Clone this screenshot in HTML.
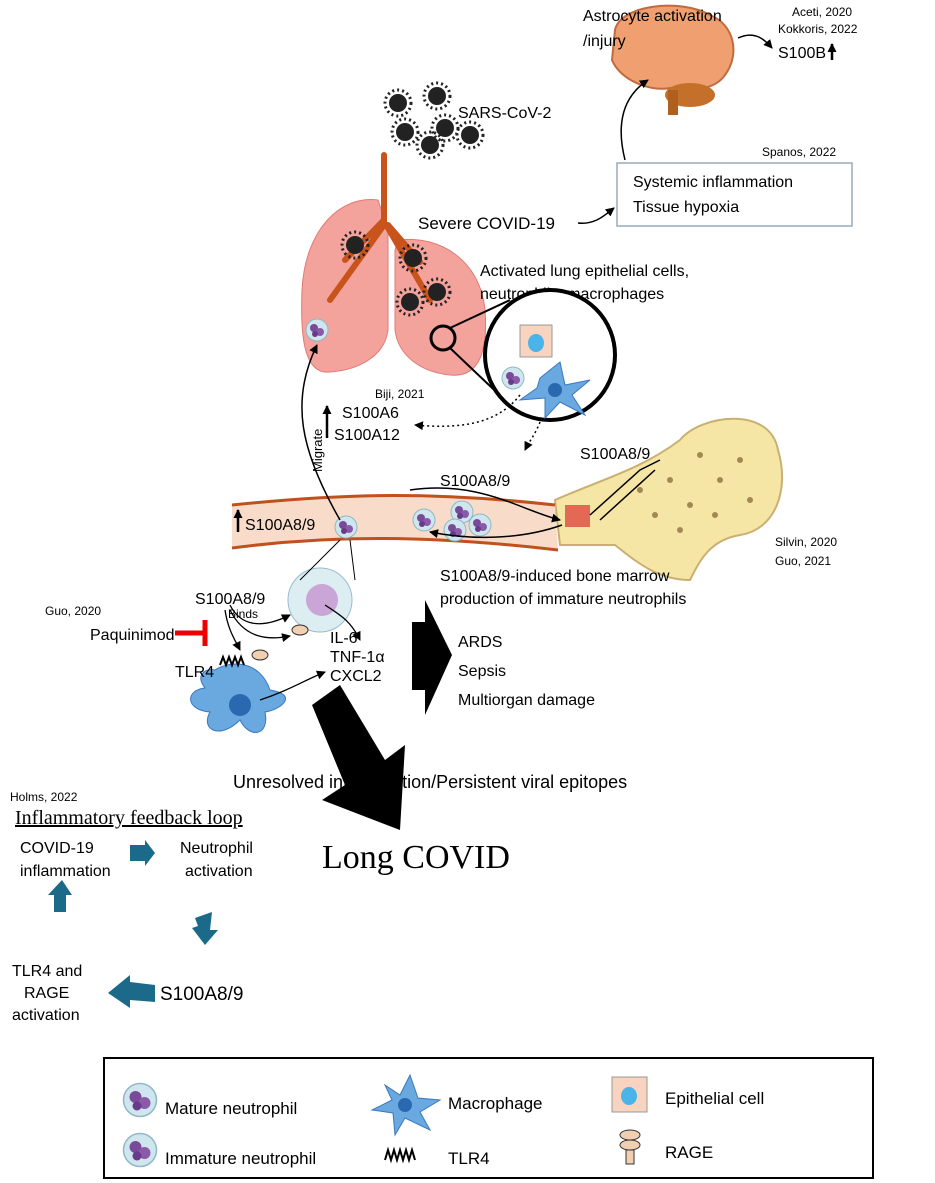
<!DOCTYPE html>
<html><head><meta charset="utf-8"><style>
html,body{margin:0;padding:0;background:#fff;}
svg{display:block;font-family:"Liberation Sans",sans-serif;}
</style></head><body>
<svg width="935" height="1183" viewBox="0 0 935 1183" xmlns="http://www.w3.org/2000/svg">
<defs>
<marker id="a" markerUnits="userSpaceOnUse" markerWidth="9" markerHeight="9" refX="8" refY="4.5" orient="auto"><path d="M0,0 L9,4.5 L0,9 z" fill="#000"/></marker>
<g id="neu"><circle r="11" fill="#cfe6ee" stroke="#8fb7c6"/><circle cx="-3" cy="-2" r="4" fill="#7a4a9a"/><circle cx="3" cy="2" r="4" fill="#8a5aa8"/><circle cx="-2" cy="4" r="3" fill="#6a3a8a"/></g>
<g id="vir"><circle r="9" fill="#222"/><circle r="13" fill="none" stroke="#222" stroke-width="3" stroke-dasharray="2 3"/></g>
</defs>
<!-- brain -->
<path d="M615,30 C620,5 680,-2 710,15 C735,25 740,55 725,75 C715,90 690,92 670,88 C650,92 620,80 612,60 Z" fill="#f0a070" stroke="#c06a40" stroke-width="2"/>
<ellipse cx="690" cy="95" rx="25" ry="12" fill="#c4702a"/>
<rect x="668" y="90" width="10" height="25" fill="#b0601e"/>
<text x="583" y="21" font-size="16">Astrocyte activation</text>
<text x="583" y="46" font-size="16">/injury</text>
<text x="792" y="16" font-size="12">Aceti, 2020</text>
<text x="778" y="33" font-size="12">Kokkoris, 2022</text>
<text x="778" y="58" font-size="16">S100B</text><path d="M832,60 V44" stroke="#000" stroke-width="2.5" marker-end="url(#a)"/>
<path d="M738,38 C755,30 765,40 772,48" fill="none" stroke="#000" stroke-width="1.5" marker-end="url(#a)"/>
<!-- viruses -->
<use href="#vir" x="398" y="103"/><use href="#vir" x="437" y="96"/><use href="#vir" x="405" y="132"/><use href="#vir" x="445" y="128"/><use href="#vir" x="470" y="135"/><use href="#vir" x="430" y="145"/>
<text x="458" y="118" font-size="16">SARS-CoV-2</text>
<!-- box -->
<text x="762" y="156" font-size="12">Spanos, 2022</text>
<rect x="617" y="163" width="235" height="63" fill="#fff" stroke="#9ab" stroke-width="1.5"/>
<text x="633" y="187" font-size="16">Systemic inflammation</text>
<text x="633" y="212" font-size="16">Tissue hypoxia</text>
<path d="M625,160 C615,120 625,95 648,80" fill="none" stroke="#000" stroke-width="1.5" marker-end="url(#a)"/>
<!-- lungs -->
<path d="M378,200 C340,195 305,230 302,290 C300,340 305,375 330,372 C360,370 385,355 388,330 L388,230 Z" fill="#f4a29c" stroke="#e07b76"/>
<path d="M398,240 C440,235 480,260 485,310 C488,350 480,378 450,375 C420,372 398,355 395,330 L395,250 Z" fill="#f4a29c" stroke="#e07b76"/>
<path d="M384,155 L384,225 M384,220 L345,260 M384,225 L330,300 M388,225 L420,262 M388,228 L430,300" stroke="#c9541b" stroke-width="6" fill="none" stroke-linecap="round"/>
<use href="#vir" x="355" y="245"/><use href="#vir" x="413" y="258"/><use href="#vir" x="437" y="292"/><use href="#vir" x="410" y="302"/>
<use href="#neu" x="317" y="330"/>
<text x="418" y="229" font-size="17">Severe COVID-19</text>
<path d="M578,223 C595,225 605,215 614,208" fill="none" stroke="#000" stroke-width="1.5" marker-end="url(#a)"/>
<text x="480" y="276" font-size="16">Activated lung epithelial cells,</text>
<text x="480" y="299" font-size="16">neutrophils, macrophages</text>
<circle cx="443" cy="338" r="12" fill="none" stroke="#000" stroke-width="3"/>
<path d="M450,328 L510,300 M450,348 L510,405" stroke="#000" stroke-width="2"/>
<circle cx="550" cy="355" r="65" fill="#fff" stroke="#000" stroke-width="4"/>
<rect x="520" y="325" width="32" height="32" fill="#f8d4c0" stroke="#999"/><ellipse cx="536" cy="343" rx="8" ry="9" fill="#4ab3e8"/>
<path d="M540,378 L560,362 L565,385 L590,380 L572,395 L585,415 L560,402 L545,418 L545,398 L520,400 L537,388 Z" fill="#6aa8e0" stroke="#3a78c0"/>
<circle cx="555" cy="390" r="7" fill="#2a68b0"/>
<use href="#neu" x="513" y="378"/>
<text x="375" y="398" font-size="12">Biji, 2021</text>
<text x="342" y="418" font-size="16">S100A6</text><text x="334" y="440" font-size="16">S100A12</text>
<path d="M327,438 V406" stroke="#000" stroke-width="2.5" marker-end="url(#a)"/>
<path d="M520,395 C500,420 470,430 415,425" fill="none" stroke="#000" stroke-width="1.5" stroke-dasharray="2 3" marker-end="url(#a)"/>
<path d="M540,422 C535,435 530,440 525,450" fill="none" stroke="#000" stroke-width="1.5" stroke-dasharray="2 3" marker-end="url(#a)"/>
<!-- bone -->
<path d="M555,500 C600,480 640,470 680,440 C700,415 770,405 778,450 C790,490 775,530 740,535 C710,540 700,560 690,580 C660,580 640,565 615,545 L560,545 Z" fill="#f6e6a6" stroke="#c9b070" stroke-width="2"/>
<g fill="#6b4a1a" opacity="0.6"><circle cx="640" cy="490" r="3"/><circle cx="670" cy="480" r="3"/><circle cx="700" cy="455" r="3"/><circle cx="720" cy="480" r="3"/><circle cx="690" cy="505" r="3"/><circle cx="740" cy="460" r="3"/><circle cx="655" cy="515" r="3"/><circle cx="715" cy="515" r="3"/><circle cx="750" cy="500" r="3"/><circle cx="680" cy="530" r="3"/></g>
<rect x="565" y="505" width="25" height="22" fill="#d33" opacity="0.7"/>
<path d="M590,515 L640,470 L660,460 M600,520 L655,470" stroke="#000" stroke-width="1.5" fill="none"/>
<text x="440" y="486" font-size="16">S100A8/9</text>
<text x="580" y="459" font-size="16">S100A8/9</text>
<text x="775" y="546" font-size="12">Silvin, 2020</text>
<text x="775" y="565" font-size="12">Guo, 2021</text>
<!-- vessel -->
<path d="M232,505 C330,495 420,490 555,505 L558,550 C430,535 330,535 232,548 Z" fill="#f8dcc9"/>
<path d="M232,505 C330,495 420,490 555,505 M232,548 C330,535 430,535 558,550" stroke="#c0501e" stroke-width="3" fill="none"/>
<use href="#neu" x="346" y="527"/><use href="#neu" x="424" y="520"/><use href="#neu" x="462" y="512"/><use href="#neu" x="455" y="530"/><use href="#neu" x="480" y="525"/>
<path d="M410,490 C480,480 520,510 560,520" fill="none" stroke="#000" stroke-width="1.5" marker-end="url(#a)"/>
<path d="M562,525 C520,540 470,540 430,532" fill="none" stroke="#000" stroke-width="1.5" marker-end="url(#a)"/>
<text x="245" y="530" font-size="16">S100A8/9</text><path d="M238,532 V510" stroke="#000" stroke-width="2.5" marker-end="url(#a)"/>
<text x="290" y="490" font-size="13" transform="rotate(-90 297 465)">Migrate</text>
<path d="M340,520 C300,450 290,400 317,345" fill="none" stroke="#000" stroke-width="1.5" marker-end="url(#a)"/>
<text x="440" y="581" font-size="16">S100A8/9-induced bone marrow</text>
<text x="440" y="604" font-size="16">production of immature neutrophils</text>
<!-- macrophage area -->
<circle cx="320" cy="600" r="32" fill="#dceef2" stroke="#9bc" />
<circle cx="322" cy="600" r="16" fill="#c9a6d6"/>
<path d="M350,540 L355,580 M340,540 L300,580" stroke="#000" stroke-width="1"/>
<text x="195" y="604" font-size="16">S100A8/9</text>
<text x="228" y="618" font-size="12">Binds</text>
<path d="M230,605 C240,625 260,630 290,615" fill="none" stroke="#000" stroke-width="1.3" marker-end="url(#a)"/>
<path d="M230,610 C245,640 270,640 290,636" fill="none" stroke="#000" stroke-width="1.3" marker-end="url(#a)"/>
<path d="M225,610 C228,630 235,640 240,650" fill="none" stroke="#000" stroke-width="1.3" marker-end="url(#a)"/>
<path d="M325,605 C340,615 350,620 360,640" fill="none" stroke="#000" stroke-width="1.3" marker-end="url(#a)"/>
<ellipse cx="300" cy="630" rx="8" ry="5" fill="#f0d0b0" stroke="#333"/><ellipse cx="260" cy="655" rx="8" ry="5" fill="#f0d0b0" stroke="#333"/>
<text x="45" y="615" font-size="12">Guo, 2020</text>
<text x="90" y="640" font-size="16">Paquinimod</text>
<path d="M175,633 H205 M205,620 V646" stroke="#e00" stroke-width="5"/>
<path d="M215,670 C230,660 260,660 270,690 C300,695 280,710 265,712 C270,735 250,740 240,720 C220,740 200,730 210,712 C185,710 185,690 205,688 C195,675 205,668 215,670 Z" fill="#6aa8e0" stroke="#3a78c0"/>
<circle cx="240" cy="705" r="11" fill="#2a68b0"/>
<path d="M220,665 l3,-8 l3,8 l3,-8 l3,8 l3,-8 l3,8 l3,-8 l3,8" stroke="#000" stroke-width="2" fill="none"/>
<text x="175" y="677" font-size="16">TLR4</text>
<path d="M260,700 C290,690 305,680 325,672" fill="none" stroke="#000" stroke-width="1.3" marker-end="url(#a)"/>
<text x="330" y="643" font-size="16">IL-6</text><text x="330" y="662" font-size="16">TNF-1α</text><text x="330" y="681" font-size="16">CXCL2</text>
<polygon points="412,622 425,622 425,600 452,655 425,715 425,690 412,690" fill="#000"/>
<text x="458" y="647" font-size="16">ARDS</text><text x="458" y="676" font-size="16">Sepsis</text><text x="458" y="705" font-size="16">Multiorgan damage</text>
<polygon points="312,705 340,685 385,760 405,745 400,830 322,800 345,785" fill="#000"/>
<text x="233" y="788" font-size="18">Unresolved inflammation/Persistent viral epitopes</text>
<text x="322" y="868" font-size="34" font-family="Liberation Serif,serif">Long COVID</text>
<!-- feedback loop -->
<text x="10" y="801" font-size="12">Holms, 2022</text>
<text x="15" y="824" font-size="20" font-family="Liberation Serif,serif" text-decoration="underline">Inflammatory feedback loop</text>
<text x="20" y="853" font-size="16">COVID-19</text><text x="20" y="876" font-size="16">inflammation</text>
<text x="180" y="853" font-size="16">Neutrophil</text><text x="185" y="876" font-size="16">activation</text>
<polygon points="130,845 145,845 145,840 155,853 145,866 145,861 130,861" fill="#1b6a8a"/>
<polygon points="195,918 212,912 210,930 218,930 205,945 192,928 198,926" fill="#1b6a8a"/>
<polygon points="48,895 62,880 72,895 66,895 66,912 54,912 54,895" fill="#1b6a8a"/>
<polygon points="155,985 130,982 130,975 108,993 130,1008 130,1000 155,1002" fill="#1b6a8a"/>
<text x="12" y="976" font-size="16">TLR4 and</text><text x="24" y="998" font-size="16">RAGE</text><text x="12" y="1020" font-size="16">activation</text>
<text x="160" y="1000" font-size="19">S100A8/9</text>
<!-- legend -->
<rect x="104" y="1058" width="769" height="120" fill="#fff" stroke="#000" stroke-width="2"/>
<use href="#neu" transform="translate(140 1100) scale(1.5)"/>
<use href="#neu" transform="translate(140 1150) scale(1.5)"/>
<text x="165" y="1114" font-size="17">Mature neutrophil</text>
<text x="165" y="1164" font-size="17">Immature neutrophil</text>
<path d="M385,1085 L400,1095 L410,1075 L418,1098 L440,1100 L420,1112 L430,1130 L405,1118 L395,1135 L393,1113 L372,1110 L392,1100 Z" fill="#6aa8e0" stroke="#3a78c0"/>
<circle cx="405" cy="1105" r="7" fill="#2a68b0"/>
<text x="448" y="1109" font-size="17">Macrophage</text>
<path d="M385,1160 l3,-10 l3,10 l3,-10 l3,10 l3,-10 l3,10 l3,-10 l3,10 l3,-10 l3,10" stroke="#000" stroke-width="2" fill="none"/>
<text x="448" y="1164" font-size="17">TLR4</text>
<rect x="612" y="1077" width="35" height="35" fill="#f8d4c0" stroke="#999"/><ellipse cx="629" cy="1096" rx="8" ry="9" fill="#4ab3e8"/>
<text x="665" y="1104" font-size="17">Epithelial cell</text>
<ellipse cx="630" cy="1135" rx="10" ry="5" fill="#f0d0b0" stroke="#333"/><ellipse cx="630" cy="1145" rx="10" ry="5" fill="#f0d0b0" stroke="#333"/><rect x="626" y="1150" width="8" height="14" fill="#f0d0b0" stroke="#333"/>
<text x="665" y="1158" font-size="17">RAGE</text>
</svg>
</body></html>
